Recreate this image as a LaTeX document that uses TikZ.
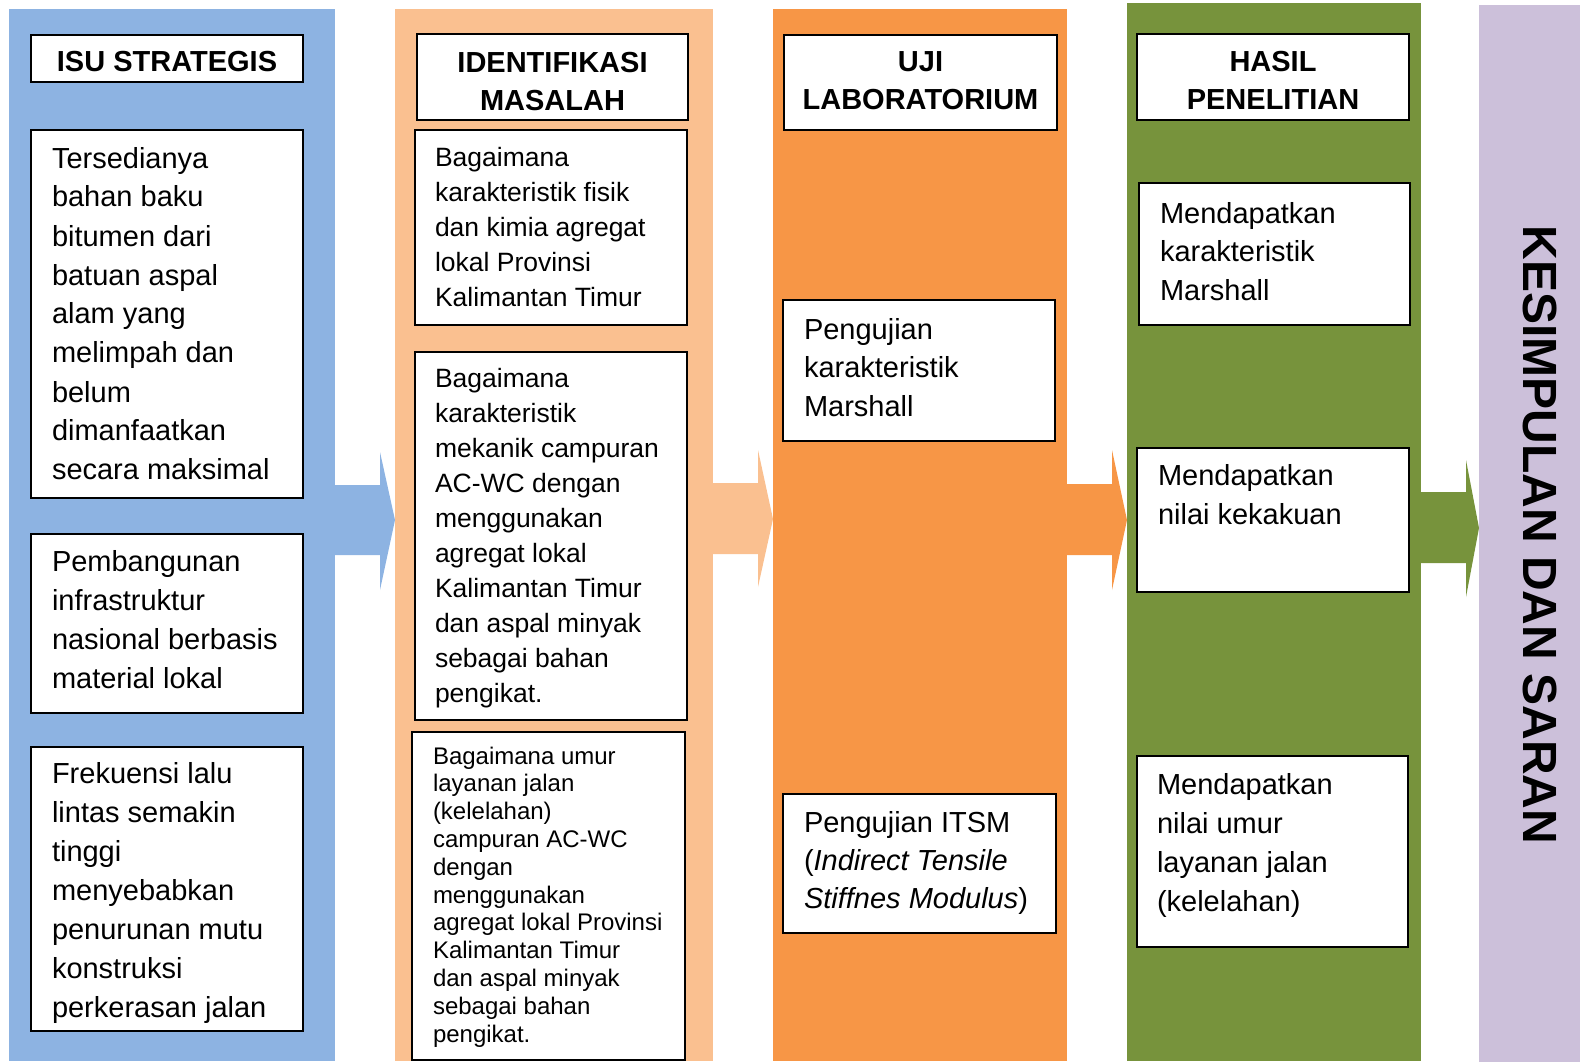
\documentclass[tikz,border=0pt]{standalone}
\usepackage{fontspec}
\setmainfont{Liberation Sans}
\definecolor{cblue}{HTML}{8DB3E2}
\definecolor{cpeach}{HTML}{FAC090}
\definecolor{corange}{HTML}{F79646}
\definecolor{cgreen}{HTML}{77933C}
\definecolor{cpurple}{HTML}{CCC0DA}
\newcommand{\txtL}[3]{\parbox[t]{600pt}{\fontsize{#1}{#2}\selectfont\raggedright #3}}
\newcommand{\txtC}[3]{\parbox[t]{260pt}{\fontsize{#1}{#2}\selectfont\bfseries\centering #3}}
\newcommand{\colm}[6]{\node[colst, fill=#2, minimum width={(#5-#3)*1pt}, minimum height={(#6-#4)*1pt}] (#1) at ({(#3+#5)/2},{(#4+#6)/2}) {};}
\newcommand{\bx}[5]{\node[boxst, minimum width={(#4-#2)*1pt}, minimum height={(#5-#3)*1pt}] (#1) at ({(#2+#4)/2},{(#3+#5)/2}) {};}
\tikzset{
  colst/.style={rectangle, draw=none, inner sep=0, outer sep=0},
  boxst/.style={rectangle, draw=black, fill=white, line width=1.6pt, inner sep=0, outer sep=0},
  tx/.style={anchor=base west, inner sep=0, outer sep=0},
  hd/.style={anchor=base, inner sep=0, outer sep=0},
}
\begin{document}
\begin{tikzpicture}[x=1pt,y=-1pt]
\useasboundingbox (0,0) rectangle (1580,1062);
% columns
\colm{colA}{cblue}{9}{9}{335}{1061}
\colm{colB}{cpeach}{395}{9}{713}{1061}
\colm{colC}{corange}{773}{9}{1067}{1061}
\colm{colD}{cgreen}{1127}{3}{1421}{1061}
\colm{colE}{cpurple}{1479}{5}{1580}{1062}
% arrows
\fill[cblue] (colA.east |- 0,485) -- (380,485) -- (380,452) -- (colB.west |- 0,520) -- (380,590) -- (380,555) -- (colA.east |- 0,555) -- cycle;
\fill[cpeach] (colB.east |- 0,483) -- (758,483) -- (758,450) -- (colC.west |- 0,519) -- (758,587) -- (758,554) -- (colB.east |- 0,554) -- cycle;
\fill[corange] (colC.east |- 0,484) -- (1112,484) -- (1112,450) -- (colD.west |- 0,520) -- (1112,590) -- (1112,555) -- (colC.east |- 0,555) -- cycle;
\fill[cgreen] (colD.east |- 0,492) -- (1466,492) -- (1466,460) -- (colE.west |- 0,528) -- (1466,597) -- (1466,563) -- (colD.east |- 0,563) -- cycle;
% column A
\bx{a0}{31}{35}{303}{82}
\node[hd] (a0t) at (167,72) {\txtC{29pt}{38pt}{ISU STRATEGIS}};
\bx{a1}{31}{130}{303}{498}
\node[tx] (a1t) at (52,168) {\txtL{29pt}{39pt}{Tersedianya\\bahan baku\\bitumen dari\\batuan aspal\\alam yang\\melimpah dan\\belum\\dimanfaatkan\\secara maksimal}};
\bx{a2}{31}{534}{303}{713}
\node[tx] (a2t) at (52,571) {\txtL{29pt}{39pt}{Pembangunan\\infrastruktur\\nasional berbasis\\material lokal}};
\bx{a3}{31}{747}{303}{1031}
\node[tx] (a3t) at (52,783) {\txtL{29pt}{39pt}{Frekuensi lalu\\lintas semakin\\tinggi\\menyebabkan\\penurunan mutu\\konstruksi\\perkerasan jalan}};
% column B
\bx{b0}{417}{34}{688}{120}
\node[hd] (b0t) at (552.5,73) {\txtC{29pt}{38pt}{IDENTIFIKASI\\MASALAH}};
\bx{b1}{415}{130}{687}{325}
\node[tx] (b1t) at (435,167) {\txtL{26.5pt}{35pt}{Bagaimana\\karakteristik fisik\\dan kimia agregat\\lokal Provinsi\\Kalimantan Timur}};
\bx{b2}{415}{352}{687}{720}
\node[tx] (b2t) at (435,387) {\txtL{26.5pt}{35pt}{Bagaimana\\karakteristik\\mekanik campuran\\AC-WC dengan\\menggunakan\\agregat lokal\\Kalimantan Timur\\dan aspal minyak\\sebagai bahan\\pengikat.}};
\bx{b3}{412}{732}{685}{1060}
\node[tx] (b3t) at (433,764) {\txtL{24pt}{27.8pt}{Bagaimana umur\\layanan jalan\\(kelelahan)\\campuran AC-WC\\dengan\\menggunakan\\agregat lokal Provinsi\\Kalimantan Timur\\dan aspal minyak\\sebagai bahan\\pengikat.}};
% column C
\bx{c0}{784}{35}{1057}{130}
\node[hd] (c0t) at (920.5,72) {\txtC{29pt}{38pt}{UJI\\LABORATORIUM}};
\bx{c1}{783}{300}{1055}{441}
\node[tx] (c1t) at (804,339) {\txtL{29pt}{38.8pt}{Pengujian\\karakteristik\\Marshall}};
\bx{c2}{783}{794}{1056}{933}
\node[tx] (c2t) at (804,832) {\txtL{29pt}{38pt}{Pengujian ITSM\\(\textit{Indirect Tensile}\\\textit{Stiffnes Modulus})}};
% column D
\bx{d0}{1137}{34}{1409}{120}
\node[hd] (d0t) at (1273,72) {\txtC{29pt}{38pt}{HASIL\\PENELITIAN}};
\bx{d1}{1139}{183}{1410}{325}
\node[tx] (d1t) at (1160,223) {\txtL{29pt}{38.8pt}{Mendapatkan\\karakteristik\\Marshall}};
\bx{d2}{1137}{448}{1409}{592}
\node[tx] (d2t) at (1158,485) {\txtL{29pt}{39pt}{Mendapatkan\\nilai kekakuan}};
\bx{d3}{1137}{756}{1408}{947}
\node[tx] (d3t) at (1157,794) {\txtL{29pt}{39pt}{Mendapatkan\\nilai umur\\layanan jalan\\(kelelahan)}};
% column E
\node[rotate=-90, inner sep=0, font=\fontsize{48pt}{56pt}\selectfont\bfseries] (et) at (1540,535) {KESIMPULAN DAN SARAN};
\end{tikzpicture}
\end{document}
